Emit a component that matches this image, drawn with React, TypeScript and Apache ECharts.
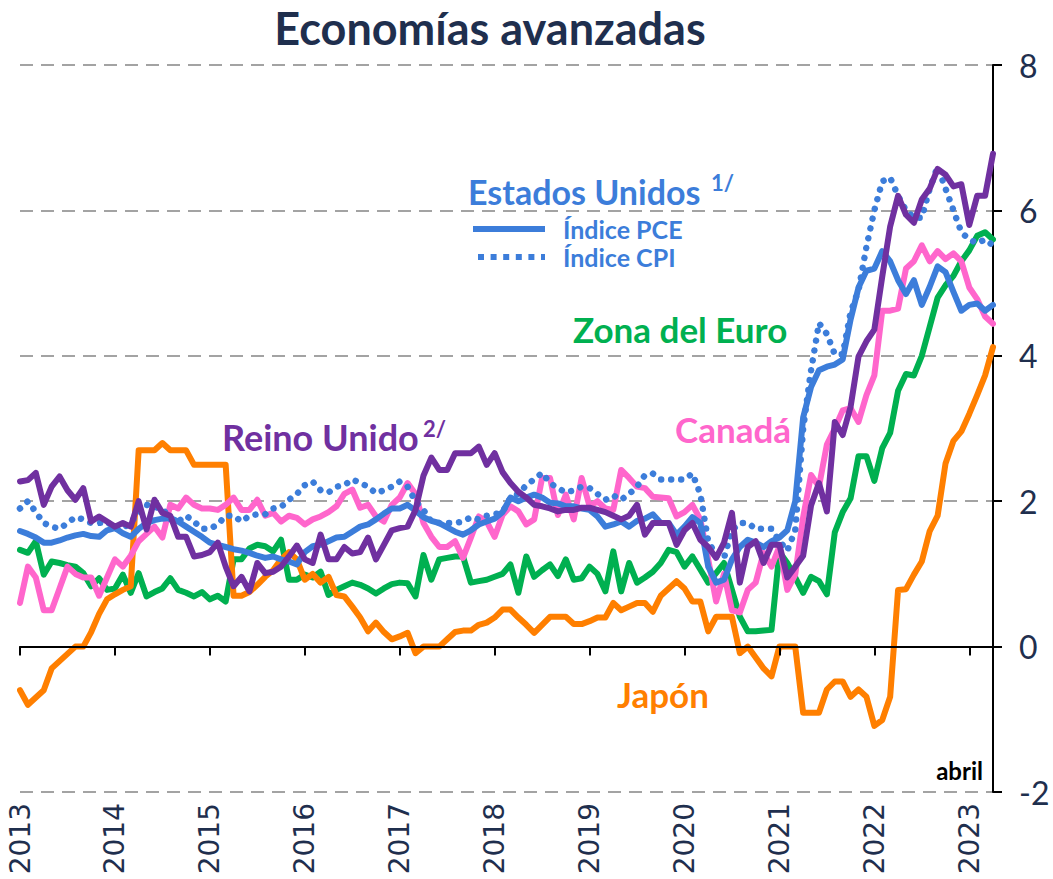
import React, { useEffect, useRef } from "react";
import * as echarts from "echarts";

// ---------- data ----------
const YEARS = [2013, 2014, 2015, 2016, 2017, 2018, 2019, 2020, 2021, 2022, 2023];
const LAST_MONTH_OF_2023 = 4; // abril

const CATEGORIES: string[] = [];
YEARS.forEach((y) => {
  for (let m = 1; m <= 12; m++) {
    if (y === 2023 && m > LAST_MONTH_OF_2023) break;
    CATEGORIES.push(`${y}-${String(m).padStart(2, "0")}`);
  }
});

const Y_MIN = -2;
const Y_MAX = 8;
const Y_STEP = 2;

// Estados Unidos – índice PCE
const US_PCE = [
  1.59, 1.55, 1.5, 1.43, 1.43, 1.46, 1.5, 1.53, 1.55, 1.52, 1.51, 1.6,
  1.63, 1.56, 1.51, 1.62, 1.7, 1.74, 1.76, 1.77, 1.72, 1.65, 1.58, 1.51,
  1.43, 1.4, 1.37, 1.34, 1.32, 1.29, 1.25, 1.22, 1.24, 1.2, 1.17, 1.13,
  1.3, 1.38, 1.4, 1.45, 1.5, 1.51, 1.58, 1.65, 1.68, 1.75, 1.83, 1.9,
  1.9, 1.95, 1.87, 1.78, 1.73, 1.7, 1.64, 1.58, 1.54, 1.6, 1.68, 1.72,
  1.76, 1.85, 2.05, 2.0, 2.05, 2.09, 2.05, 1.98, 1.97, 1.93, 1.93, 1.9,
  1.88, 1.79, 1.65, 1.68, 1.72, 1.65, 1.73, 1.76, 1.82, 1.7, 1.7, 1.54,
  1.65, 1.78, 1.7, 1.1, 0.88, 0.92, 1.2, 1.37, 1.47, 1.43, 1.37, 1.45,
  1.5, 1.6, 2.0, 3.15, 3.57, 3.8, 3.85, 3.88, 3.95, 4.5, 4.94, 5.17,
  5.2, 5.44, 5.3, 5.04, 4.85, 5.04, 4.7, 4.95, 5.23, 5.15, 4.88, 4.62,
  4.7, 4.72, 4.62, 4.7,
];

// Estados Unidos – índice CPI
const US_CPI = [
  1.9, 2.0, 1.85, 1.7, 1.65, 1.62, 1.7, 1.78, 1.75, 1.7, 1.7, 1.72,
  1.62, 1.62, 1.72, 1.82, 1.95, 1.92, 1.9, 1.75, 1.72, 1.8, 1.72, 1.62,
  1.62, 1.68, 1.8, 1.8, 1.72, 1.8, 1.82, 1.82, 1.9, 1.92, 2.02, 2.1,
  2.22, 2.27, 2.15, 2.12, 2.2, 2.22, 2.3, 2.25, 2.2, 2.11, 2.15, 2.2,
  2.27, 2.2, 2.0, 1.88, 1.72, 1.7, 1.7, 1.7, 1.72, 1.78, 1.75, 1.8,
  1.82, 1.85, 2.05, 2.1, 2.22, 2.3, 2.39, 2.25, 2.18, 2.12, 2.15, 2.2,
  2.18, 2.1, 2.02, 2.08, 2.02, 2.1, 2.2, 2.36, 2.38, 2.3, 2.3, 2.3,
  2.3, 2.38, 2.1, 1.45, 1.25, 1.22, 1.6, 1.7, 1.7, 1.62, 1.62, 1.62,
  1.45, 1.32, 1.6, 3.0, 3.8, 4.45, 4.3, 4.02, 4.02, 4.6, 4.9, 5.5,
  6.0, 6.4, 6.45, 6.2, 6.0, 5.9, 5.9, 6.3, 6.6, 6.3, 6.0, 5.7,
  5.6, 5.55, 5.6, 5.52,
];

// Reino Unido
const UK = [
  2.27, 2.29, 2.39, 1.95, 2.2, 2.34, 2.15, 2.02, 2.18, 1.72, 1.79, 1.72,
  1.65, 1.7, 1.65, 2.0, 1.61, 2.02, 1.84, 1.8, 1.51, 1.51, 1.24, 1.26,
  1.3, 1.43, 1.1, 0.83, 0.96, 0.76, 1.15, 1.01, 1.03, 1.1, 1.24, 1.39,
  1.2, 1.15, 1.54, 1.2, 1.2, 1.37, 1.28, 1.3, 1.5, 1.2, 1.4, 1.6,
  1.63, 1.65, 1.88, 2.35, 2.6, 2.43, 2.43, 2.66, 2.66, 2.66, 2.75, 2.5,
  2.66, 2.4, 2.25, 2.13, 2.05, 1.95, 1.93, 1.9, 1.86, 1.88, 1.88, 1.91,
  1.91, 1.88, 1.85, 1.8, 1.75, 1.8, 1.95, 1.54, 1.7, 1.7, 1.7, 1.4,
  1.6, 1.7, 1.47, 1.37, 1.22, 1.43, 1.84, 0.88, 1.37, 1.45, 1.15, 1.4,
  1.4, 0.95, 1.1, 1.25, 1.94, 2.25, 1.86, 3.09, 2.91, 3.3, 3.99, 4.2,
  4.36, 5.09, 5.78, 6.2, 5.94, 5.83, 6.15, 6.3, 6.57, 6.49, 6.33, 6.36,
  5.8, 6.2, 6.2, 6.78,
];

// Zona del Euro
const EURO = [
  1.33, 1.29, 1.45, 0.99, 1.17, 1.15, 1.12, 1.1, 1.01, 0.83, 0.94, 0.78,
  0.8, 0.99, 0.74, 1.01, 0.69, 0.75, 0.8, 0.94, 0.78, 0.74, 0.69, 0.75,
  0.65, 0.7, 0.62, 1.2, 1.2, 1.35, 1.4, 1.38, 1.31, 1.47, 0.92, 0.92,
  0.99, 0.95, 1.03, 0.71, 0.78, 0.83, 0.88, 0.85, 0.8, 0.73, 0.8, 0.86,
  0.88, 0.87, 0.69, 1.26, 0.92, 1.2, 1.22, 1.24, 1.24, 0.88, 0.9, 0.92,
  0.96, 1.0, 1.13, 0.74, 1.24, 0.96, 1.05, 1.13, 0.97, 1.2, 0.92, 0.94,
  1.1, 1.0, 0.76, 1.31, 0.76, 1.15, 0.88, 0.95, 1.03, 1.15, 1.33, 1.3,
  1.1, 1.24, 1.06, 0.88, 1.01, 1.15, 0.78, 0.41, 0.21, 0.21, 0.22, 0.23,
  1.3, 1.15, 0.95, 0.74, 0.96, 0.9, 0.72, 1.57, 1.85, 2.04, 2.62, 2.62,
  2.28, 2.73, 2.94, 3.52, 3.75, 3.73, 4.0, 4.4, 4.8, 4.97, 5.1, 5.3,
  5.45, 5.65, 5.7, 5.6,
];

// Canadá
const CANADA = [
  0.6, 1.1, 0.95, 0.5, 0.5, 0.8, 1.1, 1.0, 0.95, 0.95, 0.7, 0.95,
  1.2, 1.1, 1.25, 1.45, 1.55, 1.65, 1.5, 1.95, 1.9, 2.05, 1.95, 1.9,
  1.9, 1.88, 1.95, 2.05, 1.88, 1.88, 2.02, 1.8, 1.84, 1.72, 1.8, 1.77,
  1.68, 1.75, 1.79, 1.85, 1.93, 2.1, 2.16, 1.91, 1.95, 1.79, 1.72, 1.95,
  2.05, 2.25, 2.1, 1.7, 1.51, 1.37, 1.37, 1.45, 1.22, 1.5, 1.79, 1.72,
  1.51, 1.81, 1.93, 1.86, 1.68, 1.75, 2.32, 2.32, 1.81, 2.09, 1.75, 2.32,
  1.93, 2.0, 1.9, 1.88, 2.43, 2.32, 2.2, 2.18, 2.06, 2.05, 2.04, 1.79,
  1.85, 1.95, 1.75, 1.2, 0.62, 1.0, 0.5, 0.47, 0.78, 0.88, 1.29, 1.1,
  1.38, 0.78, 0.99, 1.78, 2.36, 2.2, 2.78, 3.0, 3.25, 3.28, 3.09, 3.46,
  3.73, 4.62, 4.62, 4.65, 5.2, 5.3, 5.52, 5.3, 5.44, 5.33, 5.41, 5.3,
  4.94, 4.78, 4.54, 4.44,
];

// Japón
const JAPAN = [
  -0.6, -0.8, -0.7, -0.6, -0.3, -0.2, -0.1, 0.0, 0.0, 0.2, 0.45, 0.65,
  0.72, 0.78, 0.83, 2.7, 2.7, 2.7, 2.8, 2.7, 2.7, 2.7, 2.5, 2.5,
  2.5, 2.5, 2.5, 0.7, 0.7, 0.75, 0.85, 0.96, 1.05, 1.2, 1.3, 1.2,
  0.92, 1.0, 0.88, 0.96, 0.71, 0.69, 0.55, 0.4, 0.21, 0.33, 0.2, 0.1,
  0.14, 0.19, -0.09, 0.0, 0.0, 0.0, 0.1, 0.2, 0.22, 0.22, 0.3, 0.33,
  0.4, 0.51, 0.51, 0.4, 0.3, 0.19, 0.3, 0.41, 0.41, 0.41, 0.31, 0.31,
  0.35, 0.4, 0.4, 0.6, 0.5, 0.55, 0.6, 0.6, 0.48, 0.7, 0.8, 0.9,
  0.8, 0.62, 0.62, 0.21, 0.41, 0.41, 0.41, -0.09, 0.0, -0.15, -0.3, -0.41,
  0.0, 0.0, 0.0, -0.91, -0.91, -0.91, -0.59, -0.48, -0.48, -0.69, -0.59, -0.69,
  -1.09, -1.01, -0.69, 0.78, 0.79, 0.99, 1.17, 1.59, 1.8, 2.52, 2.83, 2.96,
  3.2, 3.46, 3.73, 4.12,
];

// ---------- styles ----------
const C_US = "#3c7dda";
const C_UK = "#7030a0";
const C_EURO = "#00b050";
const C_CANADA = "#ff66cc";
const C_JAPAN = "#ff7f00";
const C_NAVY = "#1f2f4e";
const LINE_W = 6;
const FONT = "Lato, 'Open Sans', sans-serif";

const isYearStart = (i: number) => i % 12 === 0;

function lineSeries(name: string, data: number[], color: string, dotted = false) {
  return {
    name,
    type: "line",
    xAxisIndex: 0,
    yAxisIndex: 0,
    data,
    symbol: "none",
    showSymbol: false,
    smooth: false,
    lineStyle: dotted
      ? { color, width: 6.5, type: [0.01, 10], cap: "round" }
      : { color, width: LINE_W, join: "round", cap: "round" },
    itemStyle: { color },
    emphasis: { disabled: true },
  };
}

function label(text: string, x: number, y: number, color: string, size: number, align = "left") {
  return {
    type: "text",
    x,
    y,
    z: 100,
    style: {
      text,
      fill: color,
      font: `bold ${size}px ${FONT}`,
      align,
      textAlign: align,
      verticalAlign: "middle",
      textVerticalAlign: "middle",
    },
  };
}

export default function App() {
  const ref = useRef<HTMLDivElement>(null);

  useEffect(() => {
    document.body.style.margin = "0";
    if (!ref.current) return;
    const chart = echarts.init(ref.current, null, { renderer: "svg" });

    const option = {
      animation: false,
      backgroundColor: "#ffffff",
      grid: { left: 20, right: 60, top: 65, bottom: 87, containLabel: false },
      xAxis: [
        {
          type: "category",
          data: CATEGORIES,
          boundaryGap: false,
          axisLine: { show: true, onZero: true, lineStyle: { color: "#000", width: 2 } },
          axisTick: {
            show: true,
            interval: (i: number) => isYearStart(i),
            length: 9,
            lineStyle: { color: "#000", width: 2 },
          },
          axisLabel: { show: false },
          splitLine: { show: false },
          z: 10,
        },
        {
          type: "category",
          data: CATEGORIES,
          boundaryGap: false,
          position: "bottom",
          axisLine: { show: false, onZero: false },
          axisTick: { show: false },
          splitLine: { show: false },
          axisLabel: {
            interval: (i: number) => isYearStart(i),
            rotate: 90,
            formatter: (v: string) => v.slice(0, 4),
            fontSize: 28,
            fontFamily: "'DejaVu Sans', sans-serif",
            color: C_NAVY,
            margin: 11,
          },
        },
      ],
      yAxis: {
        type: "value",
        position: "right",
        min: Y_MIN,
        max: Y_MAX,
        interval: Y_STEP,
        axisLine: { show: true, onZero: false, lineStyle: { color: "#000", width: 2 } },
        axisTick: { show: true, length: 9, lineStyle: { color: "#000", width: 2 } },
        axisLabel: { fontSize: 32, color: C_NAVY, fontFamily: FONT, margin: 26 },
        splitLine: { show: true, lineStyle: { color: "#a3a3a3", width: 2, type: [13, 8] } },
      },
      series: [
        lineSeries("Zona del Euro", EURO, C_EURO),
        lineSeries("Japón", JAPAN, C_JAPAN),
        lineSeries("Canadá", CANADA, C_CANADA),
        lineSeries("Índice CPI", US_CPI, C_US, true),
        lineSeries("Índice PCE", US_PCE, C_US),
        lineSeries("Reino Unido", UK, C_UK),
      ],
      graphic: [
        label("Economías avanzadas", 490, 28, C_NAVY, 45, "center"),
        label("Estados Unidos", 468, 191, C_US, 34),
        label("1/", 711, 182, C_US, 22),
        {
          type: "line",
          z: 100,
          shape: { x1: 473, y1: 229, x2: 545, y2: 229 },
          style: { stroke: C_US, lineWidth: 6 },
        },
        {
          type: "line",
          z: 100,
          shape: { x1: 478, y1: 257, x2: 545, y2: 257 },
          style: { stroke: C_US, lineWidth: 6, lineDash: [6, 6.6] },
        },
        label("Índice PCE", 563, 229, C_US, 25),
        label("Índice CPI", 563, 257, C_US, 25),
        label("Zona del Euro", 573, 329, C_EURO, 35),
        label("Canadá", 675, 429, C_CANADA, 35),
        label("Reino Unido", 222, 437, C_UK, 36),
        label("2/", 423, 428, C_UK, 22),
        label("Japón", 617, 694, C_JAPAN, 35),
        label("abril", 983, 770, "#000000", 24, "right"),
      ],
    };

    chart.setOption(option as any);
    return () => chart.dispose();
  }, []);

  return <div ref={ref} style={{ width: 1053, height: 879 }} />;
}
